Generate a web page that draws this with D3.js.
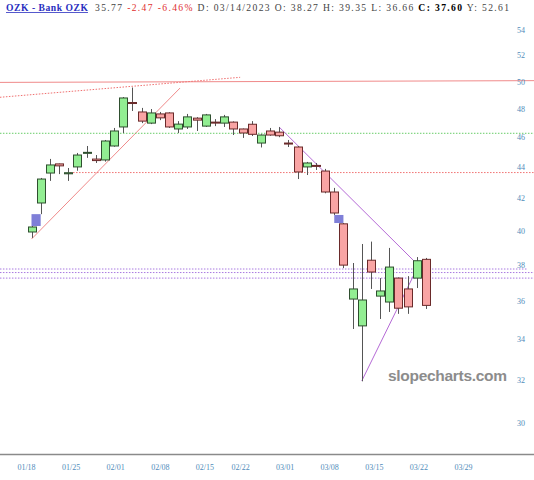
<!DOCTYPE html>
<html><head><meta charset="utf-8">
<script src="https://cdn.jsdelivr.net/npm/d3@7/dist/d3.min.js"></script>
<style>body{margin:0;background:#fff}svg{display:block}</style>
</head><body><svg id="c" width="534" height="480"></svg>
<script>
// ---- data ----
const allDates = ["01/18","01/19","01/20","01/23","01/24","01/25","01/26","01/27","01/30","01/31",
"02/01","02/02","02/03","02/06","02/07","02/08","02/09","02/10","02/13","02/14","02/15","02/16","02/17","02/21","02/22","02/23","02/24","02/27","02/28",
"03/01","03/02","03/03","03/06","03/07","03/08","03/09","03/10","03/13","03/14","03/15","03/16","03/17","03/20","03/21","03/22","03/23","03/24","03/27","03/28","03/29"];
const candleDates = allDates.slice(1,45);
const opens  = [39.92,41.69,43.60,44.20,43.55,44.00,44.93,44.52,44.46,45.40,46.71,48.45,47.77,46.98,47.63,47.70,46.57,46.71,47.33,46.77,47.05,46.98,47.05,46.57,46.90,45.60,46.43,46.35,45.60,45.33,44.00,44.10,43.73,42.38,40.41,36.11,34.69,38.27,36.27,35.95,37.26,36.66,37.26,38.32];
const highs  = [40.28,43.28,44.53,44.22,43.93,44.93,45.40,44.79,45.81,46.64,48.85,49.55,48.06,47.98,47.77,47.75,47.12,47.63,47.40,47.63,47.26,47.56,47.10,46.60,47.12,46.20,46.64,46.70,45.81,45.40,44.33,44.26,43.87,42.64,40.46,38.11,39.21,39.35,37.26,38.98,37.30,37.37,38.45,38.40];
const lows   = [39.57,41.00,43.09,43.53,43.09,43.75,44.60,44.26,44.35,45.35,46.29,47.84,46.98,46.91,47.19,46.64,46.29,46.57,46.43,46.71,46.77,46.71,46.15,45.95,46.08,45.30,46.10,46.00,45.33,43.21,43.47,43.80,42.30,40.95,37.82,34.53,31.93,36.66,35.05,35.42,35.32,35.32,36.71,35.58];
const closes = [40.22,43.21,44.13,44.07,43.62,44.79,44.97,44.42,45.74,46.43,48.78,48.40,47.12,47.70,47.35,46.71,46.91,47.42,47.19,47.56,47.02,47.42,46.57,46.29,46.20,46.15,46.15,46.10,45.55,43.67,44.26,44.05,42.38,41.07,37.99,36.66,36.06,37.60,36.55,37.88,35.62,35.69,38.24,35.77];
const gapStart = ["01/19","03/08"];
const gapEnd   = ["01/20","03/09"];
const gapLow   = [40.28,40.46];
const gapHigh  = [41.00,40.95];
const yTicks = [30,32,34,36,38,40,42,44,46,48,50,52,54];
const xTickLabels = ["01/18","01/25","02/01","02/08","02/15","02/22","03/01","03/08","03/15","03/22","03/29"];
// trendlines: start index, start value, end index, end value
const lineX1 = [-2.44,-2.44,1,-2.44,5.2,28,37,-2.44,-2.44,-2.44];
const lineV1 = [49.93,48.83,39.50,46.27,43.63,46.70,31.95,37.77,37.57,37.26];
const lineX2 = [55.8,23.74,17.19,55.8,55.8,44.24,43.37,55.0,55.8,55.8];
const lineV2 = [50.06,50.31,49.51,46.27,43.63,37.43,38.17,37.77,37.57,37.26];
const lineKind = ["redSolid","redDot","redSolid","greenDot","redDot","purple","purple","purpleDot","purpleDot","purpleDot"];
const title = "OZK - Bank OZK";
const quote = [
  {t:"35.77 ", c:"#444"},
  {t:"-2.47 -6.46%", c:"#e03030"},
  {t:" D: 03/14/2023 O: 38.27 H: 39.35 L: 36.66 ", c:"#444"},
  {t:"C: 37.60", c:"#000", b:true},
  {t:" Y: 52.61", c:"#444"}
];

// ---- scales ----
const svg = d3.select("#c");
const idx = d => allDates.indexOf(d);
const x = d3.scaleLinear().domain([1,44]).range([31.5,426]);
const xLab = d3.scaleLinear().domain([0,49]).range([26,463]);
const y = d3.scaleLog().domain([30,54]).range([423,30]);

// header
const font = "'Liberation Serif',serif";
svg.append("text").attr("x",6).attr("y",11).text(title)
  .attr("font-family",font).attr("font-size",9.6).attr("font-weight","bold")
  .attr("fill","#2a2fc0").attr("textLength",82).attr("lengthAdjust","spacing");
svg.append("line").attr("x1",6).attr("x2",88).attr("y1",12.5).attr("y2",12.5)
  .attr("stroke","#2a2fc0").attr("stroke-width",0.8);
const ht = svg.append("text").attr("x",95).attr("y",11).attr("xml:space","preserve")
  .attr("font-family",font).attr("font-size",9.6)
  .attr("textLength",414).attr("lengthAdjust","spacing");
quote.forEach(h=>{
  ht.append("tspan").text(h.t).attr("fill",h.c)
    .attr("font-weight",h.b?"bold":null).style("white-space","pre");
});

// trendlines
const styles = {
  redSolid:{s:"#f08a8a",w:1,d:null},
  redDot:{s:"#f07070",w:1,d:"1.5,1.5"},
  greenDot:{s:"#66cc66",w:1,d:"1.5,1.5"},
  purple:{s:"#b56ad6",w:1,d:null},
  purpleDot:{s:"#a878e0",w:1,d:"1.5,1.5"}
};
const lines = lineX1.map((v,i)=>({x1:v,v1:lineV1[i],x2:lineX2[i],v2:lineV2[i],k:lineKind[i]}));
svg.append("g").selectAll("line").data(lines).join("line")
  .attr("x1",d=>x(d.x1)).attr("y1",d=>y(d.v1))
  .attr("x2",d=>x(d.x2)).attr("y2",d=>y(d.v2))
  .attr("stroke",d=>styles[d.k].s).attr("stroke-width",d=>styles[d.k].w)
  .attr("stroke-dasharray",d=>styles[d.k].d);

// gap markers
const gaps = gapStart.map((d,i)=>({a:idx(d),b:idx(gapEnd[i]),lo:gapLow[i],hi:gapHigh[i]}));
svg.append("g").selectAll("rect").data(gaps).join("rect")
  .attr("x",d=>x(d.a)).attr("width",d=>x(d.b)-x(d.a))
  .attr("y",d=>y(d.hi)).attr("height",d=>y(d.lo)-y(d.hi))
  .attr("fill","#7f7fd8");

// candles
const candles = candleDates.map((d,i)=>({i:idx(d),o:opens[i],h:highs[i],l:lows[i],c:closes[i]}));
const cg = svg.append("g");
const cx = d => Math.round(x(d.i))+0.5;
cg.selectAll("line.w").data(candles).join("line").attr("class","w")
  .attr("x1",cx).attr("x2",cx)
  .attr("y1",d=>y(d.h)).attr("y2",d=>y(d.l))
  .attr("stroke","#555").attr("stroke-width",1);
cg.selectAll("rect").data(candles).join("rect")
  .attr("x",d=>cx(d)-4).attr("width",8)
  .attr("y",d=>y(Math.max(d.o,d.c)))
  .attr("height",d=>Math.max(1,y(Math.min(d.o,d.c))-y(Math.max(d.o,d.c))))
  .attr("fill",d=>d.c>=d.o?"#92ee92":"#f9a4a4")
  .attr("stroke",d=>d.c>=d.o?"#2f4f2f":"#6a2a2a").attr("stroke-width",1);

// y axis
const ya = svg.append("g").attr("transform","translate(516,0)")
  .call(d3.axisRight(y).tickValues(yTicks).tickSize(0).tickPadding(1).tickFormat(d3.format("d")));
ya.select(".domain").remove();
ya.selectAll("text").attr("fill","#4f8cba").attr("font-family",font).attr("font-size",8);

// x axis
svg.append("line").attr("x1",0).attr("x2",534).attr("y1",454.5).attr("y2",454.5)
  .attr("stroke","#8a8a8a").attr("stroke-width",1.5);
const xa = svg.append("g").attr("transform","translate(0,455)")
  .call(d3.axisBottom(xLab).tickValues(xTickLabels.map(idx)).tickSize(0).tickPadding(9).tickFormat(i=>allDates[i]));
xa.select(".domain").remove();
xa.selectAll("text").attr("fill","#4f8cba").attr("font-family",font).attr("font-size",8);

// watermark
svg.append("text").attr("x",388).attr("y",381).text("slopecharts.com")
  .attr("font-family","'Liberation Sans',Arial,sans-serif").attr("font-weight","bold")
  .attr("font-size",15.5).attr("textLength",119).attr("fill","#8c8c8c");
</script></body></html>
